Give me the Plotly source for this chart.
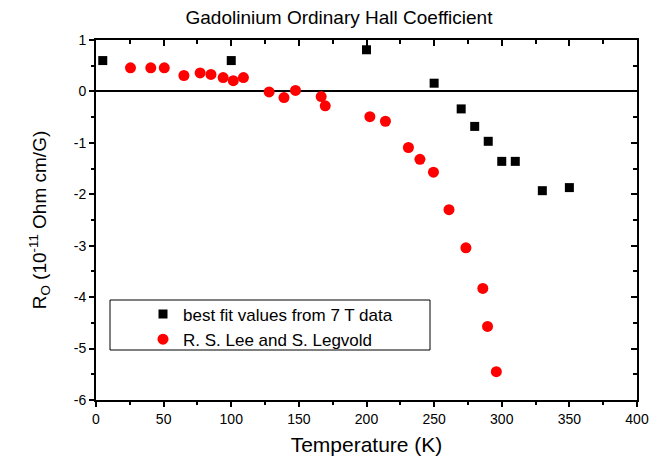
import plotly.graph_objects as go

# Data
fit_T = [5, 100, 200, 250, 270, 280, 290, 300, 310, 330, 350]
fit_R = [0.60, 0.60, 0.81, 0.16, -0.34, -0.68, -0.97, -1.36, -1.36, -1.93, -1.87]

lee_T = [25.5, 40.5, 50.5, 65, 77, 85, 94, 101.5, 109, 128, 139, 147.5, 166.5, 169.5,
         202.5, 214, 231, 239.5, 249.5, 261, 273.5, 286, 289.5, 296]
lee_R = [0.46, 0.46, 0.46, 0.31, 0.36, 0.33, 0.27, 0.21, 0.27, -0.01, -0.12, 0.02, -0.10, -0.28,
         -0.49, -0.58, -1.09, -1.32, -1.57, -2.30, -3.04, -3.83, -4.57, -5.45]

series_names = ["best fit values from 7 T data", "R. S. Lee and S. Legvold"]
title_text = "Gadolinium Ordinary Hall Coefficient"
x_title = "Temperature (K)"
y_title = "R<sub>O</sub> (10<sup>-11</sup> Ohm cm/G)"
x_ticks = [0, 50, 100, 150, 200, 250, 300, 350, 400]
y_ticks = [-6, -5, -4, -3, -2, -1, 0, 1]
x_ticktext = [str(v) for v in x_ticks]
y_ticktext = [str(v) for v in y_ticks]

FONT = "Liberation Sans, Arial, sans-serif"
L, R, T, B = 96, 25, 40, 62
PW, PH = 662 - L - R, 462 - T - B

fig = go.Figure()
fig.add_trace(go.Scatter(x=fit_T, y=fit_R, mode="markers", name=series_names[0],
                         marker=dict(symbol="square", size=9, color="black")))
fig.add_trace(go.Scatter(x=lee_T, y=lee_R, mode="markers", name=series_names[1],
                         marker=dict(symbol="circle", size=11, color="#ff0000")))
# invisible trace to activate mirror axes
fig.add_trace(go.Scatter(x=[None], y=[None], xaxis="x2", yaxis="y2", showlegend=False,
                         hoverinfo="skip"))

axis_common = dict(showgrid=False, linecolor="black", linewidth=2, automargin=False,
                   tickcolor="black", tickwidth=1.5)

fig.update_layout(
    width=662, height=462,
    margin=dict(l=L, r=R, t=T, b=B, autoexpand=False),
    paper_bgcolor="white", plot_bgcolor="white",
    font=dict(family=FONT, color="black"),
    title=dict(text=title_text, x=339 / 662, xanchor="center", y=1 - 17 / 462, yanchor="middle",
               font=dict(size=19, family=FONT)),
    xaxis=dict(range=[0, 400], tickvals=x_ticks, ticktext=x_ticktext,
               ticks="outside", ticklen=5, showline=True,
               minor=dict(dtick=25, tick0=0, ticks="outside", ticklen=3, tickcolor="black", tickwidth=1.5),
               tickfont=dict(size=14), zeroline=False,
               title=dict(text=x_title, font=dict(size=21), standoff=12), **axis_common),
    yaxis=dict(range=[-6, 1], tickvals=y_ticks, ticktext=y_ticktext,
               ticks="outside", ticklen=5, showline=True,
               minor=dict(dtick=0.5, tick0=0, ticks="outside", ticklen=3, tickcolor="black", tickwidth=1.5),
               tickfont=dict(size=14), zeroline=True, zerolinecolor="black", zerolinewidth=1.8,
               title=dict(text=y_title, font=dict(size=19), standoff=22), **axis_common),
    xaxis2=dict(range=[0, 400], overlaying="x", side="top", anchor="y2",
                tickvals=x_ticks, showticklabels=False,
                ticks="inside", ticklen=6, showline=True, linecolor="black", linewidth=2,
                minor=dict(dtick=25, tick0=0, ticks="inside", ticklen=4, tickcolor="black", tickwidth=1.5),
                showgrid=False, zeroline=False, tickcolor="black", tickwidth=1.5, automargin=False),
    yaxis2=dict(range=[-6, 1], overlaying="y", side="right", anchor="x2",
                tickvals=y_ticks, showticklabels=False,
                ticks="inside", ticklen=6, showline=True, linecolor="black", linewidth=2,
                minor=dict(dtick=0.5, tick0=0, ticks="inside", ticklen=4, tickcolor="black", tickwidth=1.5),
                showgrid=False, zeroline=False, tickcolor="black", tickwidth=1.5, automargin=False),
    legend=dict(x=(143 - L) / PW, y=(462 - B - 296.5) / PH, xanchor="left", yanchor="top",
                bgcolor="rgba(0,0,0,0)", borderwidth=0,
                font=dict(size=17, family=FONT), tracegroupgap=0, itemsizing="trace"),
    showlegend=True,
)

# legend frame
fig.add_shape(type="rect", xref="paper", yref="paper",
              x0=(110 - L) / PW, x1=(430 - L) / PW,
              y0=(462 - B - 350) / PH, y1=(462 - B - 300) / PH,
              line=dict(color="black", width=1), fillcolor="rgba(0,0,0,0)")

fig.write_html("out.html", config={"displayModeBar": False},
               post_script="document.body.style.margin='0';document.body.style.padding='0';")
